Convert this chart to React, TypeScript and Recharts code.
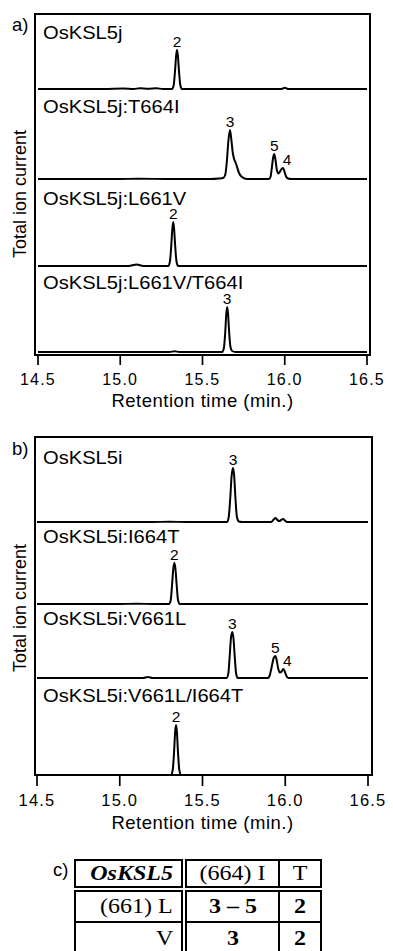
import React from "react";
import { LineChart, Line, XAxis, YAxis, ReferenceDot, Label } from "recharts";

type Pair = [number, number];
interface Peak {
  trace: number;
  t: number;
  v: number;
  label: string;
}

const xTicks = [14.5, 15.0, 15.5, 16.0, 16.5];

// panel a: OsKSL5j and its mutants (retention time, relative intensity)
const aNames = ["OsKSL5j", "OsKSL5j:T664I", "OsKSL5j:L661V", "OsKSL5j:L661V/T664I"];

const aKsl5j: Pair[] = [
  [14.5, 0], [14.9, 0], [15.02, 1], [15.08, 0], [15.12, 1.5], [15.17, 0.5], [15.22, 1.5], [15.26, 0],
  [15.315, 0], [15.325, 8], [15.333, 36], [15.34, 68], [15.345, 78], [15.35, 68], [15.357, 36], [15.365, 8], [15.375, 0],
  [15.98, 0], [16.0, 2.5], [16.02, 0], [16.5, 0],
];
const aT664I: Pair[] = [
  [14.5, 0], [15.0, 0], [15.1, 0.5], [15.3, 0], [15.55, 0], [15.6, 1], [15.625, 2], [15.638, 8], [15.648, 35],
  [15.657, 75], [15.667, 98], [15.675, 80], [15.683, 55], [15.692, 40], [15.7, 34], [15.71, 24], [15.722, 12],
  [15.74, 4], [15.77, 0], [15.905, 0], [15.914, 5], [15.922, 24], [15.93, 44], [15.936, 50], [15.943, 40],
  [15.952, 18], [15.962, 11], [15.973, 16], [15.983, 21], [15.99, 22], [15.998, 15], [16.008, 5], [16.02, 1],
  [16.04, 0], [16.5, 0],
];
const aL661V: Pair[] = [
  [14.5, 0], [15.05, 0], [15.1, 3], [15.14, 0], [15.292, 0], [15.302, 9], [15.31, 40], [15.317, 76], [15.322, 88],
  [15.327, 76], [15.334, 40], [15.342, 9], [15.352, 0], [16.5, 0],
];
const aL661VT664I: Pair[] = [
  [14.5, 0], [15.3, 0], [15.33, 1.5], [15.36, 0], [15.62, 0], [15.63, 8], [15.638, 38], [15.645, 78], [15.65, 90],
  [15.655, 78], [15.662, 40], [15.67, 10], [15.68, 2], [15.7, 0], [16.5, 0],
];
const aPeaks: Peak[] = [
  { trace: 0, t: 15.345, v: 78, label: "2" },
  { trace: 1, t: 15.667, v: 98, label: "3" },
  { trace: 1, t: 15.936, v: 50, label: "5" },
  { trace: 1, t: 15.99, v: 22, label: "4" },
  { trace: 2, t: 15.322, v: 88, label: "2" },
  { trace: 3, t: 15.65, v: 90, label: "3" },
];

// panel b: OsKSL5i and its mutants
const bNames = ["OsKSL5i", "OsKSL5i:I664T", "OsKSL5i:V661L", "OsKSL5i:V661L/I664T"];

const bKsl5i: Pair[] = [
  [14.5, 0], [15.2, 0], [15.3, 0.5], [15.4, 0], [15.648, 0], [15.658, 9], [15.667, 44], [15.676, 92], [15.684, 108],
  [15.691, 94], [15.699, 48], [15.708, 10], [15.72, 1], [15.74, 0], [15.915, 0], [15.93, 5], [15.942, 8], [15.955, 3],
  [15.968, 2], [15.978, 5], [15.988, 6], [15.998, 3], [16.01, 0], [16.5, 0],
];
const bI664T: Pair[] = [
  [14.5, 0], [15.0, 0], [15.1, 0.5], [15.2, 0], [15.298, 0], [15.308, 8], [15.316, 38], [15.324, 72], [15.33, 82],
  [15.336, 72], [15.344, 38], [15.352, 8], [15.362, 0], [16.5, 0],
];
const bV661L: Pair[] = [
  [14.5, 0], [15.14, 0], [15.17, 2], [15.2, 0], [15.645, 0], [15.656, 9], [15.664, 42], [15.672, 80], [15.68, 92],
  [15.687, 80], [15.695, 42], [15.703, 9], [15.713, 0], [15.895, 0], [15.905, 4], [15.918, 22], [15.93, 40],
  [15.94, 44], [15.948, 36], [15.958, 18], [15.968, 11], [15.978, 13], [15.988, 18], [15.996, 14], [16.006, 5],
  [16.018, 0], [16.5, 0],
];
const bV661LI664T: Pair[] = [
  [14.5, 0], [15.31, 0], [15.32, 10], [15.328, 45], [15.335, 88], [15.34, 100], [15.345, 88], [15.352, 45],
  [15.36, 10], [15.37, 0], [16.5, 0],
];
const bPeaks: Peak[] = [
  { trace: 0, t: 15.684, v: 108, label: "3" },
  { trace: 1, t: 15.33, v: 82, label: "2" },
  { trace: 2, t: 15.68, v: 92, label: "3" },
  { trace: 2, t: 15.94, v: 44, label: "5" },
  { trace: 2, t: 15.988, v: 18, label: "4" },
  { trace: 3, t: 15.34, v: 100, label: "2" },
];

// panel c table
const tableHead = ["OsKSL5", "(664) I", "T"];
const tableRows = [
  ["(661) L", "3 – 5", "2"],
  ["V", "3", "2"],
];

const SANS = "'Liberation Sans', Arial, sans-serif";
const SERIF = "'Liberation Serif', 'Times New Roman', serif";
const PX_PER_UNIT = 0.5;
const AXIS_H = 60;

interface PanelProps {
  chartTop: number;
  plotTop: number;
  plotBottom: number;
  plotLeft: number;
  plotRight: number;
  baselines: number[];
  nameTops: number[];
  names: string[];
  traces: Pair[][];
  peaks: Peak[];
  tickSize: number;
  tickMargin: number;
  tickFont: number;
  titleBase: number;
  box: { left: number; top: number; width: number; height: number };
  letter: string;
  letterTop: number;
  yTitleY: number;
}

const Panel: React.FC<PanelProps> = (p) => {
  const height = p.plotBottom - p.chartTop + AXIS_H + 5;
  const plotH = p.plotBottom - p.plotTop;
  return (
    <>
      <div style={{ position: "absolute", left: 0, top: p.chartTop }}>
        <LineChart
          width={393}
          height={height}
          margin={{ top: p.plotTop - p.chartTop, left: p.plotLeft, right: 393 - p.plotRight, bottom: 5 }}
        >
          <XAxis
            type="number"
            dataKey="t"
            domain={[14.5, 16.5]}
            ticks={xTicks}
            allowDataOverflow
            axisLine={false}
            tickSize={p.tickSize}
            tickMargin={p.tickMargin}
            tickLine={{ stroke: "#000", strokeWidth: 1.7 }}
            tick={{ fontSize: p.tickFont, fill: "#000", fontFamily: SANS, letterSpacing: 1.2 }}
            tickFormatter={(v: number) => v.toFixed(1)}
            height={AXIS_H}
          >
            <Label
              value="Retention time (min.)"
              position="insideBottom"
              offset={AXIS_H - (p.titleBase - p.plotBottom)}
              style={{ fontSize: 18.5, fill: "#000", fontFamily: SANS, letterSpacing: 0.5 }}
            />
          </XAxis>
          {p.baselines.map((b, i) => {
            // stack traces: value 0 sits on the trace's baseline
            const lo = -(p.plotBottom - b) / PX_PER_UNIT;
            const hi = lo + plotH / PX_PER_UNIT;
            return <YAxis key={`y${i}`} yAxisId={i} type="number" hide domain={[lo, hi]} allowDataOverflow />;
          })}
          {p.traces.map((tr, i) => (
            <Line
              key={`l${i}`}
              yAxisId={i}
              data={tr.map(([t, v]) => ({ t, v }))}
              dataKey="v"
              type="monotone"
              stroke="#000"
              strokeWidth={2}
              dot={false}
              activeDot={false}
              isAnimationActive={false}
            />
          ))}
          {p.peaks.map((pk, i) => (
            <ReferenceDot
              key={`p${i}`}
              yAxisId={pk.trace}
              x={pk.t}
              y={pk.v}
              r={0}
              fill="none"
              stroke="none"
              label={{
                value: pk.label,
                position: "top",
                offset: 3.5,
                dx: pk.label === "4" ? 4 : 0,
                style: { fontSize: 15.5, fill: "#000", fontFamily: SANS },
              }}
            />
          ))}
        </LineChart>
      </div>
      <div
        style={{
          position: "absolute",
          left: p.box.left,
          top: p.box.top,
          width: p.box.width,
          height: p.box.height,
          border: "2px solid #000",
          boxSizing: "border-box",
          pointerEvents: "none",
        }}
      />
      {p.names.map((n, i) => (
        <div
          key={`n${i}`}
          style={{
            position: "absolute",
            left: 43,
            top: p.nameTops[i] - 0.6,
            fontSize: 17.5,
            lineHeight: "14px",
            whiteSpace: "nowrap",
            transform: "scaleX(1.15)",
            transformOrigin: "left center",
          }}
        >
          {n}
        </div>
      ))}
      <div
        style={{
          position: "absolute",
          left: 20,
          top: p.yTitleY,
          transform: "translate(-50%, -50%) rotate(-90deg)",
          fontSize: 18,
          whiteSpace: "nowrap",
          lineHeight: "18px",
        }}
      >
        Total ion current
      </div>
      <div style={{ position: "absolute", left: 12, top: p.letterTop, fontSize: 18.5, lineHeight: "18px" }}>
        {p.letter}
      </div>
    </>
  );
};

const cellBase: React.CSSProperties = {
  position: "absolute",
  border: "2px solid #000",
  boxSizing: "border-box",
  display: "flex",
  alignItems: "center",
  fontFamily: SERIF,
  fontSize: 20,
  whiteSpace: "nowrap",
};

const colX = [
  [74, 183],
  [185, 280],
  [278, 322],
];
const rowY = [
  [859, 888],
  [890, 923],
  [921, 956],
];

const Table: React.FC = () => {
  const cells: React.ReactNode[] = [];
  const all = [tableHead, ...tableRows];
  all.forEach((row, r) =>
    row.forEach((txt, c) => {
      const first = c === 0;
      const bold = r > 0 && c > 0;
      const head = r === 0 && first;
      cells.push(
        <div
          key={`${r}-${c}`}
          style={{
            ...cellBase,
            left: colX[c][0],
            top: rowY[r][0],
            width: colX[c][1] - colX[c][0],
            height: rowY[r][1] - rowY[r][0],
            justifyContent: first ? "flex-end" : "center",
            paddingRight: first ? 8 : 0,
            fontWeight: bold || head ? "bold" : "normal",
            fontStyle: head ? "italic" : "normal",
          }}
        >
          <span
            style={{
              display: "inline-block",
              transform: "scaleX(1.2)",
              transformOrigin: first ? "right center" : "center center",
            }}
          >
            {txt}
          </span>
        </div>
      );
    })
  );
  return (
    <>
      <div style={{ position: "absolute", left: 53, top: 861, fontSize: 18.5, lineHeight: "18px" }}>c)</div>
      {cells}
    </>
  );
};

export default function App() {
  return (
    <div
      style={{
        position: "absolute",
        left: 0,
        top: 0,
        width: 393,
        height: 951,
        overflow: "hidden",
        background: "#fff",
        fontFamily: SANS,
        color: "#000",
      }}
    >
      <Panel
        chartTop={0}
        plotTop={14}
        plotBottom={355}
        plotLeft={38}
        plotRight={367}
        baselines={[89, 179, 266, 352]}
        nameTops={[27, 101, 193, 277]}
        names={aNames}
        traces={[aKsl5j, aT664I, aL661V, aL661VT664I]}
        peaks={aPeaks}
        tickSize={10}
        tickMargin={9}
        tickFont={16}
        titleBase={407}
        box={{ left: 34, top: 13, width: 337, height: 343 }}
        letter="a)"
        letterTop={16}
        yTitleY={194}
      />
      <Panel
        chartTop={423}
        plotTop={437}
        plotBottom={775}
        plotLeft={37}
        plotRight={368}
        baselines={[522, 604, 678, 775]}
        nameTops={[452, 531, 613, 690]}
        names={bNames}
        traces={[bKsl5i, bI664T, bV661L, bV661LI664T]}
        peaks={bPeaks}
        tickSize={11}
        tickMargin={8}
        tickFont={16.5}
        titleBase={829}
        box={{ left: 34, top: 436, width: 339, height: 340 }}
        letter="b)"
        letterTop={440}
        yTitleY={608}
      />
      <Table />
    </div>
  );
}
